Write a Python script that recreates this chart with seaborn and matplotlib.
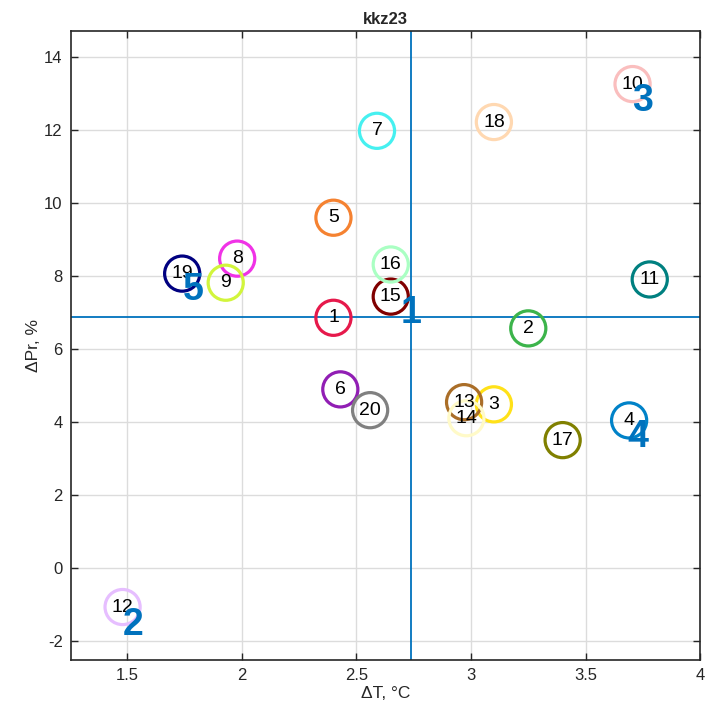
import matplotlib
matplotlib.use("Agg")
import matplotlib.pyplot as plt
import seaborn as sns
import pandas as pd

# Model runs: warming (dT, degC) and precipitation change (dPr, %)
model_ids = list(range(1, 21))
delta_t = [2.40, 3.25, 3.10, 3.69, 2.40, 2.43, 2.59, 1.98, 1.93, 3.705,
           3.78, 1.48, 2.97, 2.98, 2.65, 2.65, 3.40, 3.10, 1.74, 2.56]
delta_pr = [6.85, 6.56, 4.48, 4.04, 9.59, 4.89, 11.97, 8.47, 7.81, 13.25,
            7.90, -1.07, 4.54, 4.10, 7.43, 8.31, 3.50, 12.21, 8.06, 4.32]
model_colors = ["#E6194B", "#3CB44B", "#FFE119", "#0082C8", "#F58231",
                "#911EB4", "#46F0F0", "#F032E6", "#D2F53C", "#FABEBE",
                "#008080", "#E6BEFF", "#AA6E28", "#FFFAC8", "#800000",
                "#AAFFC3", "#808000", "#FFD8B1", "#000080", "#808080"]

# Selected cluster markers
cluster_labels = ["1", "2", "3", "4", "5"]
cluster_t = [2.74, 1.526, 3.75, 3.73, 1.79]
cluster_pr = [6.97, -1.56, 12.79, 3.58, 7.60]

# Ensemble medians (reference lines)
median_t = 2.74
median_pr = 6.87

x_ticks = [1.5, 2, 2.5, 3, 3.5, 4]
y_ticks = [-2, 0, 2, 4, 6, 8, 10, 12, 14]

sns.set_theme(style="whitegrid")
plt.rcParams["font.family"] = ["Liberation Sans", "DejaVu Sans"]
plt.rcParams["axes.unicode_minus"] = False

df = pd.DataFrame({"model": [str(m) for m in model_ids], "dT": delta_t, "dPr": delta_pr})

fig = plt.figure(figsize=(7.13, 7.07), dpi=100)
ax = fig.add_axes([0.0996, 0.0665, 0.8824, 0.8895])

sns.scatterplot(data=df, x="dT", y="dPr", hue="model",
                palette=model_colors, s=640, marker="o",
                facecolors="none", linewidth=2.3, legend=False, ax=ax, zorder=3)
# hollow circles outlined in each model's colour
coll = ax.collections[0]
coll.set_edgecolors(model_colors)
coll.set_facecolors("none")

for m, x, y in zip(model_ids, delta_t, delta_pr):
    ax.text(x, y, str(m), ha="center", va="center", fontsize=14,
            color="black", zorder=4)

ax.axvline(median_t, color="#0072BD", lw=1.3, zorder=2)
ax.axhline(median_pr, color="#0072BD", lw=1.3, zorder=2)

for lab, x, y in zip(cluster_labels, cluster_t, cluster_pr):
    ax.text(x, y, lab, ha="center", va="center", fontsize=27,
            fontweight="bold", color="#0072BD", zorder=5)

ax.set_xlim(1.255, 4.0)
ax.set_ylim(-2.52, 14.7)
ax.set_xticks(x_ticks)
ax.set_xticklabels(["1.5", "2", "2.5", "3", "3.5", "4"])
ax.set_yticks(y_ticks)
ax.set_xlabel("ΔT, °C", fontsize=12.5, labelpad=2)
ax.set_ylabel("ΔPr, %", fontsize=12.5, labelpad=2)
ax.set_title("kkz23", fontsize=12, fontweight="bold", pad=5)

ax.set_facecolor("white")
ax.grid(True, color="#DCDCDC", lw=1.0)
for s in ax.spines.values():
    s.set_visible(True)
    s.set_color("#262626")
    s.set_linewidth(1.2)
ax.tick_params(direction="in", length=5, width=1, colors="#262626",
               labelsize=12, top=True, right=True, bottom=True, left=True,
               pad=6)

fig.savefig("out.png", dpi=100, facecolor="white")
